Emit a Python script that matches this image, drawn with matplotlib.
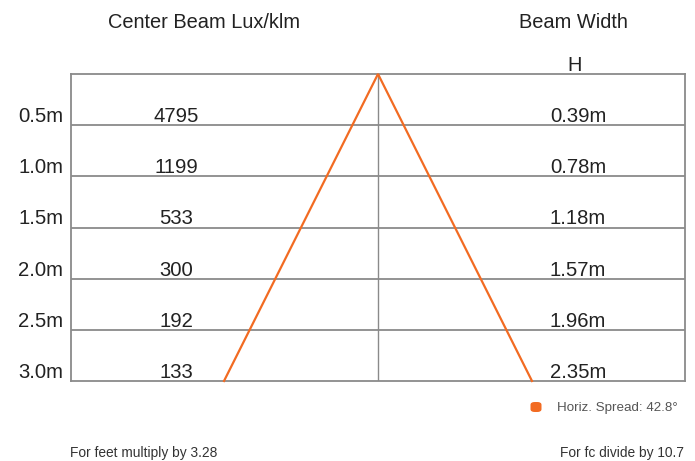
import matplotlib
matplotlib.use("Agg")
import matplotlib.pyplot as plt
from matplotlib.patches import FancyBboxPatch

distances = [0.5, 1.0, 1.5, 2.0, 2.5, 3.0]
distance_labels = ["0.5m", "1.0m", "1.5m", "2.0m", "2.5m", "3.0m"]
lux_values = ["4795", "1199", "533", "300", "192", "133"]
beam_widths = [0.39, 0.78, 1.18, 1.57, 1.96, 2.35]
spread_label = "Horiz. Spread: 42.8°"

plt.rcParams['font.family'] = ['Liberation Sans', 'DejaVu Sans']

W, H = 695, 461
fig = plt.figure(figsize=(W / 100, H / 100), dpi=100)

def fx(px):
    return px / W

def fy(py):
    return 1 - py / H

left, right, top, bottom = 71, 685, 74, 381
ax = fig.add_axes([fx(left), fy(bottom), fx(right) - fx(left), fy(top) - fy(bottom)])
half = 307 / 131.06
ax.set_xlim(-half, half)
ax.set_ylim(3.0, 0.0)
ax.set_xticks([])
ax.set_yticks([])
grey = "#8a8a8a"
for s in ax.spines.values():
    s.set_color(grey)
    s.set_linewidth(1.3)

# row lines
for d in distances[:-1]:
    ax.axhline(d, color=grey, lw=1.3)
ax.axvline(0, color=grey, lw=1.0)

# beam cone
orange = "#f26b22"
w = beam_widths[-1] / 2
ax.plot([-w, 0, w], [distances[-1], 0, distances[-1]], color=orange, lw=1.6,
        solid_joinstyle='miter', clip_on=False, zorder=5)

txt = "#222222"
fs = 14.6
fsh = 14.4
xl = (176 - 378) / 131.06
xr = (578 - 378) / 131.06
for d, lab, lux, bw in zip(distances, distance_labels, lux_values, beam_widths):
    yb = d - 0.03
    ax.text(-half - 0.06, yb, lab, ha='right', va='baseline', fontsize=fs, color=txt, clip_on=False)
    ax.text(xl, yb, lux, ha='center', va='baseline', fontsize=fs, color=txt)
    ax.text(xr, yb, f"{bw:.2f}m", ha='center', va='baseline', fontsize=fs, color=txt)

fig.text(fx(204), fy(28), "Center Beam Lux/klm", ha='center', va='baseline', fontsize=fsh, color=txt)
fig.text(fx(573), fy(28), "Beam Width", ha='center', va='baseline', fontsize=fsh, color=txt)
fig.text(fx(575), fy(71), "H", ha='center', va='baseline', fontsize=fsh, color=txt)

# legend
fig.patches.append(FancyBboxPatch((fx(530.5), fy(412)), fx(11), 10 / H,
                                  boxstyle="round,pad=0,rounding_size=0.006",
                                  transform=fig.transFigure, facecolor=orange,
                                  edgecolor='none'))
fig.text(fx(557), fy(411), spread_label, ha='left', va='baseline', fontsize=9.6, color="#555555")

fig.text(fx(70), fy(457), "For feet multiply by 3.28", ha='left', va='baseline', fontsize=9.9, color="#333333")
fig.text(fx(684), fy(457), "For fc divide by 10.7", ha='right', va='baseline', fontsize=9.9, color="#333333")

fig.savefig("out.png", dpi=100)
